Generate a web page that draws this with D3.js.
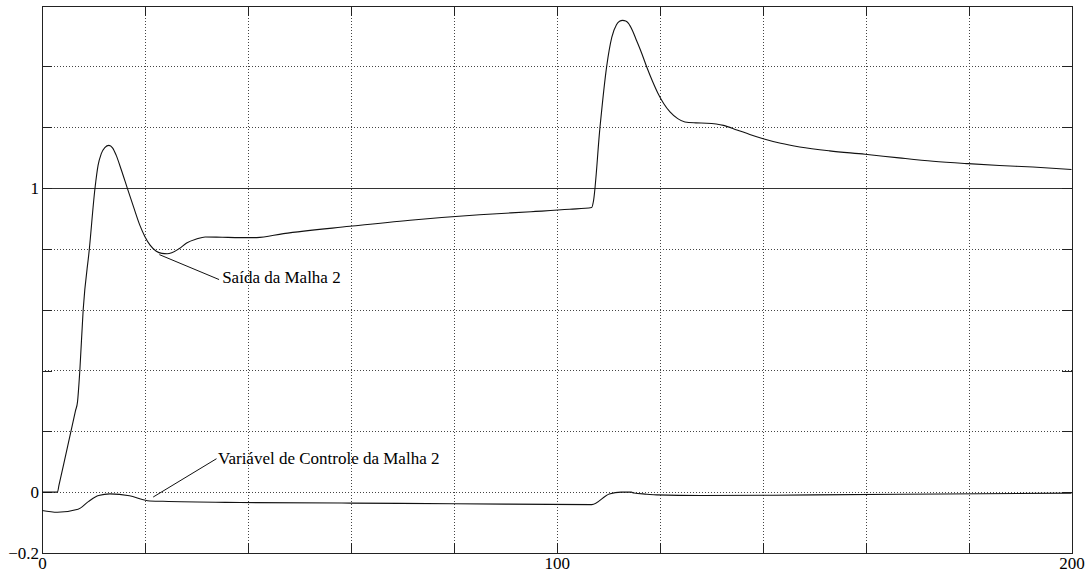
<!DOCTYPE html>
<html>
<head>
<meta charset="utf-8">
<script src="https://cdn.jsdelivr.net/npm/d3@7"></script>
<style>
  html, body { margin: 0; padding: 0; background: #fff; }
  svg { display: block; }
  text { font-family: "Liberation Serif", "Times New Roman", serif; fill: #000; }
</style>
</head>
<body>
<svg id="chart" width="1091" height="573"></svg>
<script>
// Loop 2 response: time (s) and value
const saidaT = [0, 3, 3.3, 5.0, 6.5, 6.9, 7.35, 8.0, 9.2, 10.3, 10.9, 11.5, 12.2, 13.0, 13.7, 14.4, 15.4, 16.6, 17.8, 19.0, 20.0, 21.0, 22.2, 23.3, 24.3, 25.2, 26.6, 28.1, 30.0, 31.7, 35.0, 38.5, 41.7, 46.9, 59.8, 71.5, 85.0, 95.0, 102.5, 106.8, 107.1, 108.4, 109.7, 110.7, 111.6, 112.2, 112.8, 113.4, 113.9, 114.7, 115.5, 116.5, 117.5, 118.6, 119.7, 120.8, 122.0, 123.5, 124.9, 127.0, 129.1, 132.4, 135.0, 137.5, 140.1, 143.5, 147.2, 153.0, 159.9, 166.5, 173.1, 179.9, 186.0, 192.5, 200];
const saidaV = [0, 0, 0.023, 0.152, 0.267, 0.297, 0.40, 0.60, 0.80, 1.0, 1.075, 1.112, 1.133, 1.14, 1.132, 1.108, 1.06, 0.998, 0.937, 0.878, 0.840, 0.812, 0.792, 0.785, 0.784, 0.787, 0.800, 0.819, 0.832, 0.839, 0.838, 0.837, 0.837, 0.85, 0.874, 0.894, 0.912, 0.922, 0.930, 0.936, 0.954, 1.200, 1.400, 1.496, 1.537, 1.548, 1.551, 1.549, 1.542, 1.518, 1.485, 1.443, 1.397, 1.351, 1.310, 1.277, 1.250, 1.228, 1.217, 1.214, 1.213, 1.206, 1.191, 1.176, 1.162, 1.147, 1.135, 1.122, 1.111, 1.099, 1.088, 1.080, 1.074, 1.069, 1.061];

// Loop 2 control variable
const controleT = [0, 3, 7, 9, 11, 13.2, 17, 20.5, 23.5, 38.5, 60, 80, 106.8, 110.2, 112.5, 114.5, 115, 117.5, 119.4, 128, 150, 175, 200];
const controleV = [-0.060, -0.066, -0.056, -0.031, -0.011, -0.0056, -0.012, -0.028, -0.030, -0.034, -0.036, -0.038, -0.041, -0.006, 0.0, 0.0, -0.003, -0.0066, -0.009, -0.011, -0.009, -0.006, -0.003];

const xTicks = d3.range(0, 201, 20);
const yTicks = [-0.2, 0, 0.2, 0.4, 0.6, 0.8, 1.0, 1.2, 1.4, 1.6];
const xLabels = [0, 100, 200];
const yLabels = [-0.2, 0, 1];
const referenceLevel = 1;

const annotations = [
  { text: "Saída da Malha 2", from: [22.8, 0.781], to: [34.4, 0.699], tx: 35.0, ty: 0.688 },
  { text: "Variável de Controle da Malha 2", from: [21.6, -0.016], to: [33.9, 0.110], tx: 34.2, ty: 0.094 }
];

const svg = d3.select("#chart");
const plotL = 42, plotR = 1071.5, plotT = 5.5, plotB = 553;

const x = d3.scaleLinear().domain([0, 200]).range([plotL, plotR]);
const y = d3.scaleLinear().domain([-0.2, 1.6]).range([plotB, plotT]);

// dotted grid
const grid = svg.append("g").attr("shape-rendering", "crispEdges")
  .attr("stroke", "#444").attr("stroke-dasharray", "1,2").attr("stroke-width", 1);
grid.selectAll("line.v").data(xTicks.filter(d => d > 0 && d < 200)).join("line")
  .attr("x1", d => Math.round(x(d)) + 0.5).attr("x2", d => Math.round(x(d)) + 0.5)
  .attr("y1", plotT).attr("y2", plotB);
grid.selectAll("line.h").data(yTicks.filter(d => d > -0.2 && d < 1.6 && d !== referenceLevel)).join("line")
  .attr("y1", d => Math.round(y(d)) + 0.5).attr("y2", d => Math.round(y(d)) + 0.5)
  .attr("x1", plotL).attr("x2", plotR);

// reference level
svg.append("line")
  .attr("x1", plotL).attr("x2", plotR)
  .attr("y1", Math.round(y(referenceLevel)) + 0.5).attr("y2", Math.round(y(referenceLevel)) + 0.5)
  .attr("stroke", "#333").attr("stroke-width", 1).attr("shape-rendering", "crispEdges");

// axes with inward ticks on all four sides
function styleAxis(g) {
  g.attr("shape-rendering", "crispEdges");
  g.select(".domain").attr("stroke", "#222");
  g.selectAll(".tick line").attr("stroke", "#222");
  g.selectAll(".tick text").attr("font-family", "Liberation Serif").attr("font-size", 17).attr("fill", "#000");
}
svg.append("g").attr("transform", `translate(0,${plotB})`)
  .call(d3.axisBottom(x).tickValues(xTicks).tickSizeInner(-10).tickSizeOuter(0).tickPadding(4)
    .tickFormat(d => xLabels.includes(d) ? d : ""))
  .call(styleAxis)
  .call(g => g.selectAll(".tick text").attr("dy", "0.71em").attr("y", 4));
svg.append("g").attr("transform", `translate(0,${plotT})`)
  .call(d3.axisTop(x).tickValues(xTicks).tickSizeInner(-10).tickSizeOuter(0).tickFormat(""))
  .call(styleAxis);
svg.append("g").attr("transform", `translate(${plotL},0)`)
  .call(d3.axisLeft(y).tickValues(yTicks).tickSizeInner(-10).tickSizeOuter(0).tickPadding(3)
    .tickFormat(d => yLabels.some(v => Math.abs(v - d) < 1e-9) ? d3.format("")(d) : ""))
  .call(styleAxis);
svg.append("g").attr("transform", `translate(${plotR},0)`)
  .call(d3.axisRight(y).tickValues(yTicks).tickSizeInner(-10).tickSizeOuter(0).tickFormat(""))
  .call(styleAxis);

// curves
const line = d3.line().x(d => x(d[0])).y(d => y(d[1])).curve(d3.curveMonotoneX);
svg.append("path").datum(saidaT.map((t, i) => [t, saidaV[i]]))
  .attr("d", line).attr("fill", "none").attr("stroke", "#111").attr("stroke-width", 1.1);
svg.append("path").datum(controleT.map((t, i) => [t, controleV[i]]))
  .attr("d", line).attr("fill", "none").attr("stroke", "#111").attr("stroke-width", 1.1);

// annotations
annotations.forEach(a => {
  svg.append("line")
    .attr("x1", x(a.from[0])).attr("y1", y(a.from[1]))
    .attr("x2", x(a.to[0])).attr("y2", y(a.to[1]))
    .attr("stroke", "#111").attr("stroke-width", 1);
  svg.append("text").attr("x", x(a.tx)).attr("y", y(a.ty))
    .attr("font-size", 17).text(a.text);
});
</script>
</body>
</html>
